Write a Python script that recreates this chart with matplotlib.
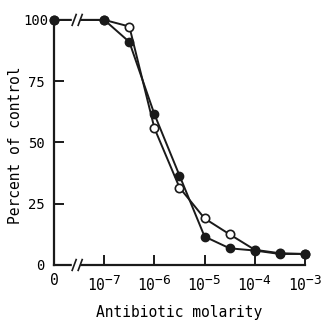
import matplotlib
matplotlib.use("Agg")
import matplotlib.pyplot as plt
import matplotlib.transforms as mtransforms
import matplotlib._mathtext as mathtext_internal

plt.rcParams['font.family'] = ['DejaVu Sans Mono']
plt.rcParams['mathtext.fontset'] = 'custom'
plt.rcParams['mathtext.rm'] = 'DejaVu Sans Mono'
# bigger exponents, like the typed labels of the original
mathtext_internal.SHRINK_FACTOR = 0.88

# data: log10 molarity (control "0" placed at -8)
closed_x = [-8, -7, -6.5, -6, -5.5, -5, -4.5, -4, -3.5, -3]
closed_y = [100, 100, 91, 61.5, 36.5, 11.6, 6.8, 5.9, 4.5, 4.5]
open_x = [-8, -7, -6.5, -6, -5.5, -5, -4.5, -4, -3.5, -3]
open_y = [100, 100, 97.3, 55.8, 31.6, 19.0, 12.5, 6.2, 4.8, 4.5]

xtick_pos = [-8, -7, -6, -5, -4, -3]
xtick_labels = ['0', '$\\mathregular{10^{-7}}$', '$\\mathregular{10^{-6}}$',
                '$\\mathregular{10^{-5}}$', '$\\mathregular{10^{-4}}$',
                '$\\mathregular{10^{-3}}$']
ytick_pos = [0, 25, 50, 75, 100]

fig = plt.figure(figsize=(3.24, 3.21), dpi=100)
ax = fig.add_axes([0.167, 0.1745, 0.774, 0.7635])

ink = '#1a1a1a'
lw = 1.4
ax.plot(open_x, open_y, color=ink, lw=lw, marker='o', ms=6,
        mfc='white', mec=ink, mew=1.2, clip_on=False, zorder=3)
ax.plot(closed_x, closed_y, color=ink, lw=lw, marker='o', ms=6,
        mfc=ink, mec=ink, clip_on=False, zorder=4)

ax.set_xlim(-8, -3)
ax.set_ylim(0, 100)

for s in ['top', 'right']:
    ax.spines[s].set_visible(False)
for s in ['left', 'bottom']:
    ax.spines[s].set_linewidth(1.6)
    ax.spines[s].set_color(ink)

ax.set_xticks(xtick_pos)
ax.set_xticklabels(xtick_labels, fontsize=10.5)
ax.set_yticks(ytick_pos)
ax.set_yticklabels([str(v) for v in ytick_pos], fontsize=10)
ax.tick_params(axis='both', direction='in', length=7, width=1.4, color=ink)
ax.tick_params(axis='x', pad=6)
ax.tick_params(axis='y', pad=7)
# no tick mark at the "0" position / y=0, y=100
ax.xaxis.get_major_ticks()[0].tick1line.set_visible(False)
ax.yaxis.get_major_ticks()[0].tick1line.set_visible(False)
ax.yaxis.get_major_ticks()[-1].tick1line.set_visible(False)

# the typed label "100" sits closer to the axis
lab = ax.get_yticklabels()[-1]
lab.set_transform(lab.get_transform() +
                  mtransforms.ScaledTranslation(0.04, 0, fig.dpi_scale_trans))

ax.set_xlabel('Antibiotic molarity', fontsize=10.5, labelpad=8)
ax.set_ylabel('Percent of control', fontsize=10.5)
ax.yaxis.set_label_coords(-0.124, 0.49)

# axis break marks
for yb in [0, 100]:
    ax.fill_between([-7.64, -7.5], yb - 2, yb + 2, color='white', zorder=5, clip_on=False)
    for xb in [-7.6, -7.48]:
        ax.plot([xb - 0.04, xb + 0.04], [yb - 2.2, yb + 2.2], color=ink,
                lw=1.2, zorder=6, clip_on=False)

fig.savefig('out.png', dpi=100)
